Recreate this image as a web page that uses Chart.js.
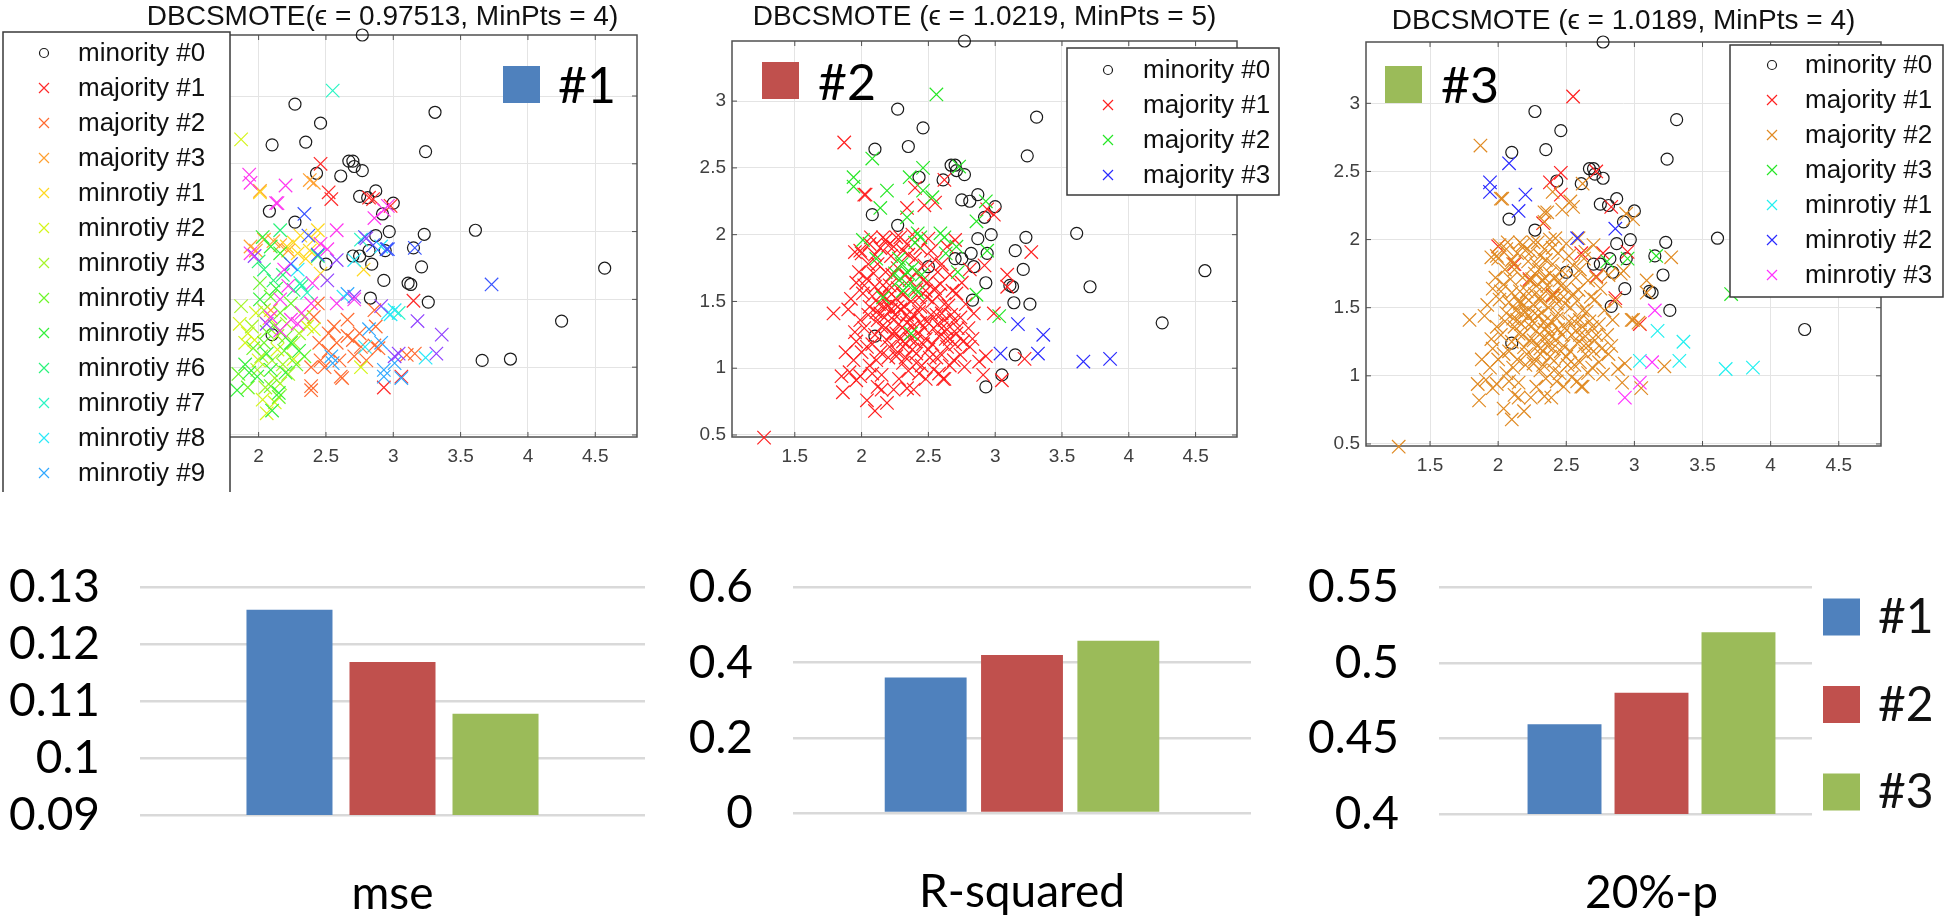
<!DOCTYPE html>
<html>
<head>
<meta charset="utf-8">
<title>DBCSMOTE clusters and scores</title>
<script src="https://cdn.jsdelivr.net/npm/chart.js@4.4.1/dist/chart.umd.min.js"></script>
<style>
  body { margin: 0; background: #fff; width: 1946px; height: 917px; position: relative; overflow: hidden; }
  canvas { position: absolute; }
  .sq { position: absolute; width: 37px; height: 37px; }
  .tag { position: absolute; font-family: Lato, 'Open Sans', sans-serif; font-size: 50px; line-height: 50px; color: #000; }
</style>
</head>
<body>
<canvas id="sc1" width="650" height="492" style="left:0;top:0"></canvas>
<canvas id="sc2" width="646" height="492" style="left:650px;top:0"></canvas>
<canvas id="sc3" width="650" height="492" style="left:1296px;top:0"></canvas>
<canvas id="bar1" width="650" height="397" style="left:0;top:520px"></canvas>
<canvas id="bar2" width="646" height="397" style="left:650px;top:520px"></canvas>
<canvas id="bar3" width="650" height="397" style="left:1296px;top:520px"></canvas>

<div class="sq" style="left:503px;top:66px;background:#4F81BD"></div><div class="tag" style="left:558px;top:59px">#1</div>
<div class="sq" style="left:762px;top:62px;background:#C0504D"></div><div class="tag" style="left:818px;top:56px">#2</div>
<div class="sq" style="left:1385px;top:66px;background:#9BBB59"></div><div class="tag" style="left:1441px;top:59px">#3</div>

<script>
// ---- scatter data (x, y) ----
var circlesAll = [[2.77,3.45],[2.27,2.94],[2.46,2.80],[3.31,2.88],[2.10,2.64],[2.35,2.66],[3.24,2.59],[2.67,2.52],[2.70,2.52],[2.71,2.48],
  [2.77,2.45],[2.43,2.43],[2.61,2.41],[2.87,2.30],[2.75,2.26],[2.81,2.25],[3.00,2.21],[2.08,2.15],[2.92,2.13],[2.27,2.07],
  [2.97,2.00],[3.61,2.01],[3.23,1.98],[2.87,1.97],[3.15,1.88],[2.94,1.86],[2.82,1.86],[2.70,1.82],[2.75,1.82],[2.84,1.76],
  [2.50,1.76],[3.21,1.74],[4.57,1.73],[2.93,1.64],[3.11,1.62],[3.13,1.61],[2.83,1.51],[3.26,1.48],[4.25,1.34],[2.10,1.24]];
var circlesP1 = [[3.66,1.05],[3.87,1.06]];
var circlesP2 = [[3.71,1.61],[3.15,1.10],[3.05,0.95],[2.93,0.86],[3.14,1.49]];

var coreCluster = [[2.03,2.30],[1.95,1.87],[1.99,1.88],[2.06,1.93],[2.10,1.85],[2.18,1.96],[2.24,1.91],[2.29,1.98],[2.34,1.93],[2.38,2.00],
  [2.44,1.90],[2.50,1.97],[2.55,1.81],[2.64,1.91],[2.04,1.67],[2.10,1.61],[2.01,1.56],[2.16,1.62],[2.23,1.70],[2.06,1.46],
  [2.14,1.41],[2.20,1.47],[2.24,1.36],[2.29,1.44],[2.34,1.34],[2.39,1.40],[2.44,1.46],[2.49,1.35],[2.54,1.30],[2.60,1.41],
  [2.65,1.47],[2.69,1.36],[2.64,1.29],[2.71,1.56],[1.79,1.41],[1.90,1.44],[1.95,1.27],[1.96,1.20],[2.04,1.16],[2.10,1.25],
  [2.15,1.31],[2.19,1.21],[2.26,1.26],[2.31,1.16],[2.36,1.22],[2.41,1.11],[2.46,1.18],[2.51,1.08],[2.58,1.24],[2.64,1.16],
  [2.69,1.06],[2.31,1.04],[2.35,0.98],[2.41,1.04],[1.85,0.94],[1.91,0.97],[1.99,0.94],[2.08,0.96],[2.15,0.95],[1.86,0.82],
  [1.96,0.91],[2.04,0.76],[2.10,0.68],[2.15,0.84],[2.34,0.85],[2.39,0.84],[2.61,0.92],[2.21,1.16],[2.49,1.53],[2.41,1.59],
  [2.59,1.63],[1.96,1.64],[1.99,1.36],[2.11,1.06],[2.26,1.09],[2.54,0.99],[1.87,2.69],[2.02,2.30],[2.40,2.35],[2.34,2.20],
  [2.47,2.22],[2.55,2.24],[2.62,2.41],[2.99,2.15],[2.94,2.19],[3.27,1.87],[3.09,1.70],[3.09,1.61],[2.92,1.77],[2.81,1.74],
  [2.70,1.96],[2.99,1.41],[2.84,1.41],[2.81,1.16],[2.93,1.09],[2.91,0.95],[3.05,0.91],[3.22,1.07],[2.62,0.92],[2.71,1.26],
  [1.27,0.48],[2.60,1.10],[2.77,1.01],[2.12,1.78],[2.18,1.72],[2.22,1.84],[2.27,1.75],[2.33,1.70],[2.40,1.82],[2.47,1.77],
  [2.52,1.88],[2.57,1.72],[2.15,1.55],[2.20,1.58],[2.26,1.52],[2.31,1.55],[2.37,1.50],[2.43,1.53],[2.48,1.58],[2.53,1.50],
  [2.58,1.55],[2.62,1.48],[2.12,1.36],[2.18,1.30],[2.23,1.26],[2.28,1.33],[2.33,1.28],[2.38,1.31],[2.42,1.26],[2.47,1.30],
  [2.52,1.40],[2.57,1.33],[2.62,1.36],[2.08,1.18],[2.14,1.12],[2.20,1.08],[2.27,1.12],[2.33,1.08],[2.38,1.14],[2.45,1.02],
  [2.50,1.14],[2.56,1.08],[2.66,1.22],[2.72,1.30],[2.76,1.20],[2.02,1.30],[2.05,1.40],[2.00,1.86],[2.07,1.98],[2.14,1.90],
  [2.35,1.85],[2.46,1.66],[2.22,1.44],[2.05,1.78],[2.09,1.71],[2.13,1.48],[2.17,1.38],[2.21,1.62],[2.25,1.40],[2.29,1.22],
  [2.32,1.46],[2.36,1.36],[2.40,1.20],[2.44,1.34],[2.48,1.22],[2.53,1.18],[2.56,1.40],[2.60,1.30],[2.63,1.22],[2.67,1.40],
  [2.70,1.18],[2.74,1.38],[2.78,1.48],[2.80,1.30],[2.83,1.22],[2.88,1.05],[2.74,1.10],[2.66,1.02],[2.58,0.96],[2.48,0.92],
  [2.43,0.96],[2.28,0.92],[2.24,0.84],[2.19,0.74],[2.12,0.86],[2.06,1.02],[2.00,1.12],[1.94,1.06],[1.88,1.12],[1.92,1.52],
  [1.98,1.72],[2.02,1.62],[2.08,1.54],[2.19,1.52],[2.27,1.60],[2.36,1.66],[2.41,1.72],[2.49,1.64],[2.55,1.60],[2.60,1.78],
  [2.66,1.70],[2.68,1.58],[2.75,1.64],[2.16,1.98],[2.26,1.98],[2.31,1.88],[2.20,1.92],[2.43,1.42],[2.34,1.40],[2.27,1.46],
  [2.17,1.46],[2.11,1.42],[2.31,1.20]];

// plot 2 (#2)
var p2Maj2 = [[2.56,3.05],[1.94,2.43],[1.94,2.36],[2.08,2.57],[2.19,2.33],[2.14,2.20],[2.34,2.13],[2.46,2.50],[2.36,2.43],[2.46,2.33],
  [2.53,2.28],[2.73,2.51],[2.86,2.10],[2.93,2.25],[2.01,1.96],[2.42,2.01],[2.59,2.01],[2.71,1.91],[2.63,1.86],[2.11,1.82],
  [2.28,1.82],[2.25,1.71],[2.34,1.72],[2.40,1.94],[2.72,1.72],[2.94,1.88],[2.86,1.55],[3.03,1.39],[2.16,1.53],[2.31,1.58],
  [2.40,1.60],[2.37,1.26],[2.30,1.78],[2.38,1.75],[2.45,1.70],[2.35,1.62],[2.28,1.66],[2.42,1.57],[2.44,1.98],[2.62,1.98]];
var p2Maj3 = [[3.17,1.33],[3.36,1.25],[3.04,1.11],[3.32,1.11],[3.66,1.05],[3.86,1.07]];

// plot 3 (#3)
var p3Maj1 = [[2.55,3.05],[2.00,1.95],[2.38,2.42],[2.46,2.49],[2.72,2.50],[2.46,2.33],[2.33,2.12],[2.77,1.90],[2.95,1.91],[2.72,1.73],
  [2.86,1.57],[2.40,1.59],[3.04,1.38],[2.23,1.71],[2.12,1.82],[2.83,2.24],[2.61,1.90]];
var p3Maj2Extra = [[2.01,1.96],[2.42,2.01],[2.59,2.01],[2.63,1.86],[2.11,1.82],[2.28,1.82],[2.25,1.71],[2.34,1.72],[2.40,1.94],[2.72,1.72],
  [2.86,1.55],[3.03,1.39],[2.16,1.53],[2.31,1.58],[2.40,1.60],[2.37,1.26],[2.30,1.78],[2.38,1.75],[2.45,1.70],[2.35,1.62],
  [2.28,1.66],[2.42,1.57],[2.34,2.13],[2.53,2.28],[2.36,2.20],[2.90,1.75],[2.98,1.41]];
var p3Maj3 = [[2.80,1.84],[2.95,1.86],[3.16,1.88],[3.71,1.60]];
var p3Min1 = [[3.17,1.33],[3.36,1.25],[3.04,1.11],[3.33,1.11],[3.67,1.05],[3.87,1.06]];
var p3Min2 = [[1.94,2.42],[1.94,2.35],[2.08,2.56],[2.20,2.33],[2.15,2.21],[2.58,2.01],[2.86,2.08]];
var p3Min3 = [[3.15,1.48],[3.13,1.10],[3.04,0.95],[2.93,0.84]];

// plot 1 (#1)
var p1Maj1 = [[2.46,2.50],[2.52,2.29],[2.54,2.24],[2.82,2.25],[2.85,2.24],[2.98,2.19],[3.15,1.49],[3.06,0.93],[2.93,0.85]];
var p1Maj2 = [[2.86,1.42],[2.87,1.30],[2.44,1.47],[2.66,1.23],[2.76,1.15],[2.61,0.93],[2.39,0.83],[2.49,1.00],[2.56,1.30],[2.58,1.18],
  [2.71,1.08],[2.86,1.16],[2.41,1.37],[2.39,1.00],[2.89,1.14],[3.10,1.09],[3.16,1.10],[2.46,1.05],[2.62,0.92],[2.39,0.86],
  [2.75,1.25],[2.66,1.35],[2.52,1.12],[2.52,1.25],[2.60,1.05],[2.70,1.20],[2.45,1.18],[2.80,1.05]];
var p1Maj3 = [[1.94,1.89],[2.04,1.94],[2.11,1.93],[2.41,2.36],[2.09,1.42],[2.38,2.38],[2.01,2.30],[2.16,1.90],[2.22,1.86],[1.98,1.86]];
var p1Min1 = [[2.01,2.29],[2.21,1.89],[2.29,1.84],[2.41,1.94],[2.46,1.69],[2.31,1.97],[2.78,1.72],[2.35,1.80],[2.26,1.92],[2.44,2.01],[2.38,1.86]];
var p1Min2 = [[1.87,2.68],[1.92,1.25],[1.97,1.20],[2.14,1.13],[2.36,1.30],[2.76,1.00],[2.03,0.76],[2.06,0.66],[2.41,1.28],[1.86,1.32],
  [2.00,1.05],[1.90,1.18],[2.08,1.36],[2.26,1.06],[1.98,1.40],[2.12,0.74]];
var p1Min3 = [[1.87,1.45],[2.14,1.23],[2.21,1.32],[2.04,1.42],[2.26,1.18],[2.34,1.37],[2.16,0.88],[1.99,0.98],[2.30,1.25],[2.10,1.05],
  [2.22,0.95],[2.05,0.85],[1.95,1.30],[2.02,1.08],[2.18,1.02],[2.12,0.92]];
var p1Min4 = [[2.01,1.62],[2.09,1.52],[2.16,1.40],[2.04,1.18],[2.24,1.47],[2.34,1.08],[1.85,0.95],[1.92,0.85],[2.12,1.30],[2.20,1.22],
  [2.28,1.02],[2.15,0.78],[1.96,1.14],[2.06,1.26],[2.19,1.12],[2.09,0.86]];
var p1Min5 = [[2.03,1.96],[2.09,1.89],[2.16,1.84],[2.24,1.18],[2.09,0.98],[1.84,0.83],[1.99,0.93],[2.10,0.68],[2.15,0.81],[1.93,0.96],
  [2.06,1.10],[2.30,1.12],[2.01,1.50],[2.13,1.58],[1.90,1.02],[2.20,0.96]];
var p1Min6 = [[2.16,2.01],[2.04,1.72],[2.11,1.64],[2.26,1.57],[2.44,1.82],[2.00,1.78],[2.18,1.68],[2.32,1.60]];
var p1Min7 = [[2.55,3.04],[2.31,1.62],[2.76,1.94],[3.04,1.40],[2.36,1.55]];
var p1Min8 = [[2.71,1.79],[2.91,1.89],[2.63,1.52],[2.96,1.40],[2.29,1.72],[3.01,1.42],[2.98,1.39],[3.24,1.07],[2.79,1.15]];
var p1Min9 = [[2.82,1.28],[2.91,1.18],[2.93,0.98],[3.01,1.03],[2.54,1.08],[2.66,1.54],[2.93,0.93],[3.06,0.92],[2.55,1.03]];
var p1Min10 = [[2.34,2.13],[2.37,1.97],[2.96,1.87],[2.85,1.90],[2.24,1.76],[2.44,1.83],[3.16,1.88],[2.95,1.87],[3.73,1.61],[2.79,1.96]];
var p1Min11 = [[1.97,1.82],[2.80,1.95],[2.58,1.79],[2.51,1.64],[2.06,1.32],[2.71,1.52],[2.91,1.45],[3.01,1.08],[3.18,1.34],[3.36,1.24],[3.04,1.10],[3.32,1.10]];
var p1Min12 = [[1.93,2.42],[1.94,2.36],[2.20,2.34],[2.14,2.21],[2.86,2.10],[2.58,2.01],[1.94,1.84],[2.19,1.72],[2.46,1.91],[2.16,1.50],
  [2.71,1.50],[2.09,1.37],[2.24,1.35],[2.16,1.27],[2.51,1.87],[2.58,1.47],[2.39,1.47],[2.29,1.32],[2.93,2.16],[2.96,2.19],
  [2.13,2.21],[2.32,1.40],[2.22,1.60],[2.40,1.62]];

var titles = ['DBCSMOTE(\u03f5 = 0.97513, MinPts = 4)', 'DBCSMOTE (\u03f5 = 1.0219, MinPts = 5)', 'DBCSMOTE (\u03f5 = 1.0189, MinPts = 4)'];

// ---- bar data ----
var barNames = ['#1', '#2', '#3'];
var barColors = ['#4F81BD', '#C0504D', '#9BBB59'];
var mseVals = [0.1261, 0.1169, 0.1078];
var r2Vals = [0.361, 0.4205, 0.4585];
var p20Vals = [0.4594, 0.4804, 0.5204];

var sansA = "'Liberation Sans', Arial, sans-serif";
var sansB = "Lato, 'Open Sans', sans-serif";

// box around the axes with small inward ticks, like MATLAB
var frame = {
  id: 'frame',
  beforeDatasetsDraw: function(chart) {
    var ctx = chart.ctx, a = chart.chartArea, sx = chart.scales.x, sy = chart.scales.y;
    ctx.save();
    ctx.strokeStyle = '#505050';
    ctx.lineWidth = 1.5;
    ctx.strokeRect(a.left, a.top, a.right - a.left, a.bottom - a.top);
    ctx.lineWidth = 1;
    ctx.beginPath();
    sx.ticks.forEach(function(t) {
      var px = sx.getPixelForValue(t.value);
      ctx.moveTo(px, a.bottom); ctx.lineTo(px, a.bottom - 5);
      ctx.moveTo(px, a.top); ctx.lineTo(px, a.top + 5);
    });
    sy.ticks.forEach(function(t) {
      var py = sy.getPixelForValue(t.value);
      ctx.moveTo(a.left, py); ctx.lineTo(a.left + 5, py);
      ctx.moveTo(a.right, py); ctx.lineTo(a.right - 5, py);
    });
    ctx.stroke();
    ctx.restore();
  }
};

// legend drawn as a boxed list at a fixed spot (covers what is under it)
var boxLegend = {
  id: 'boxLegend',
  afterDraw: function(chart, args, o) {
    if (!o || !o.show) return;
    var ctx = chart.ctx;
    ctx.save();
    ctx.fillStyle = '#fff';
    ctx.fillRect(o.x, o.y, o.w, o.h);
    if (o.border) {
      ctx.strokeStyle = '#3a3a3a';
      ctx.lineWidth = 1.5;
      ctx.strokeRect(o.x, o.y, o.w, o.h);
    }
    ctx.font = o.font;
    ctx.textBaseline = 'middle';
    chart.data.datasets.forEach(function(ds, i) {
      var cy = o.y + o.first + i * o.rowH;
      var cx = o.x + o.markX;
      if (o.marker === 'rect') {
        ctx.fillStyle = ds.backgroundColor;
        ctx.fillRect(cx - o.size / 2, cy - o.size / 2, o.size, o.size);
      } else {
        ctx.strokeStyle = ds.pointBorderColor;
        ctx.lineWidth = 1.2;
        ctx.beginPath();
        if (ds.pointStyle === 'circle') {
          ctx.arc(cx, cy, 4.5, 0, Math.PI * 2);
        } else {
          ctx.moveTo(cx - 5, cy - 5); ctx.lineTo(cx + 5, cy + 5);
          ctx.moveTo(cx - 5, cy + 5); ctx.lineTo(cx + 5, cy - 5);
        }
        ctx.stroke();
      }
      ctx.fillStyle = '#111';
      ctx.fillText(ds.label, o.x + o.textX, cy + 1);
    });
    ctx.restore();
  }
};

function pts(arr) {
  return arr.map(function(p) { return { x: p[0], y: p[1] }; });
}

function scatterChart(id, c) {
  var datasets = c.series.map(function(s, i) {
    var circ = s[2] === 'o';
    return {
      label: s[0],
      data: pts(s[1]),
      pointStyle: circ ? 'circle' : 'crossRot',
      pointRadius: circ ? 6 : 9.5,
      pointBorderWidth: 1.2,
      pointBorderColor: s[3],
      borderColor: s[3],
      pointBackgroundColor: 'rgba(0,0,0,0)',
      backgroundColor: 'rgba(0,0,0,0)',
      clip: false,
      order: -i
    };
  });
  return new Chart(document.getElementById(id), {
    type: 'scatter',
    data: { datasets: datasets },
    plugins: [frame, boxLegend],
    options: {
      responsive: false,
      animation: false,
      events: [],
      layout: { padding: { left: 0, right: c.padR, top: 0, bottom: 0 } },
      plugins: {
        legend: { display: false },
        tooltip: { enabled: false },
        title: {
          display: true, text: c.title, fullSize: false, color: '#111',
          font: { family: sansA, size: 28, weight: 'normal' },
          padding: { top: c.tTop, bottom: c.tBot }
        },
        boxLegend: c.legend
      },
      scales: {
        x: {
          type: 'linear', min: 1.03, max: 4.81,
          afterFit: function(s) { s.height = c.xH; },
          grid: { color: '#e4e4e4', lineWidth: 1, drawTicks: false },
          border: { display: false },
          ticks: {
            stepSize: 0.5, includeBounds: false, autoSkip: false, maxRotation: 0, padding: 8,
            color: '#404040', font: { family: sansA, size: 19 },
            callback: function(v) { return String(Math.round(v * 100) / 100); }
          }
        },
        y: {
          min: 0.485, max: 3.45,
          afterFit: function(s) { s.width = c.yW; },
          grid: { color: '#e4e4e4', lineWidth: 1, drawTicks: false },
          border: { display: false },
          ticks: {
            stepSize: 0.5, includeBounds: false, autoSkip: false, padding: 6,
            color: '#404040', font: { family: sansA, size: 19 },
            callback: function(v) { return String(Math.round(v * 100) / 100); }
          }
        }
      }
    }
  });
}

var legFont = '26px ' + sansA;

scatterChart('sc1', {
  title: titles[0], tTop: 0, tBot: 1.4, yW: 128, xH: 55, padR: 13,
  legend: { show: true, border: true, x: 3, y: 32, w: 227, h: 480, first: 21, rowH: 35, markX: 41, textX: 75, font: legFont },
  series: [
    ['minority #0', circlesAll.concat(circlesP1), 'o', '#1a1a1a'],
    ['majority #1', p1Maj1, 'x', '#ff2a2a'],
    ['majority #2', p1Maj2, 'x', '#ff6a30'],
    ['majority #3', p1Maj3, 'x', '#ffa030'],
    ['minrotiy #1', p1Min1, 'x', '#ffd820'],
    ['minrotiy #2', p1Min2, 'x', '#d4f51a'],
    ['minrotiy #3', p1Min3, 'x', '#a6f52a'],
    ['minrotiy #4', p1Min4, 'x', '#6cf52a'],
    ['minrotiy #5', p1Min5, 'x', '#33f03a'],
    ['minrotiy #6', p1Min6, 'x', '#2af27a'],
    ['minrotiy #7', p1Min7, 'x', '#2af5c4'],
    ['minrotiy #8', p1Min8, 'x', '#2ae8f8'],
    ['minrotiy #9', p1Min9, 'x', '#30a8ff'],
    ['minrotiy #10', p1Min10, 'x', '#3a56ff'],
    ['minrotiy #11', p1Min11, 'x', '#9040ff'],
    ['minrotiy #12', p1Min12, 'x', '#ff36f0']
  ]
});

scatterChart('sc2', {
  title: titles[1], tTop: 0.2, tBot: 7.2, yW: 82, xH: 55, padR: 59,
  legend: { show: true, border: true, x: 417, y: 48, w: 212, h: 147, first: 22, rowH: 35, markX: 41, textX: 76, font: legFont },
  series: [
    ['minority #0', circlesAll.concat(circlesP2), 'o', '#1a1a1a'],
    ['majority #1', coreCluster, 'x', '#ff1f1f'],
    ['majority #2', p2Maj2, 'x', '#26e626'],
    ['majority #3', p2Maj3, 'x', '#2a2aff']
  ]
});

scatterChart('sc3', {
  title: titles[2], tTop: 4.2, tBot: 4.2, yW: 70, xH: 46, padR: 65,
  legend: { show: true, border: true, x: 434, y: 45, w: 213, h: 252, first: 20, rowH: 35, markX: 42, textX: 75, font: legFont },
  series: [
    ['minority #0', circlesAll, 'o', '#1a1a1a'],
    ['majority #1', p3Maj1, 'x', '#ff2020'],
    ['majority #2', coreCluster.concat(p3Maj2Extra), 'x', '#e08a22'],
    ['majority #3', p3Maj3, 'x', '#26e626'],
    ['minrotiy #1', p3Min1, 'x', '#22f0f0'],
    ['minrotiy #2', p3Min2, 'x', '#2a2aff'],
    ['minrotiy #3', p3Min3, 'x', '#ff30ff']
  ]
});

function barChart(id, c) {
  return new Chart(document.getElementById(id), {
    type: 'bar',
    data: {
      labels: [c.cat],
      datasets: barNames.map(function(n, i) {
        return {
          label: n, data: [c.vals[i]], backgroundColor: barColors[i], borderWidth: 0,
          barPercentage: c.bp, categoryPercentage: c.cp
        };
      })
    },
    plugins: [boxLegend],
    options: {
      responsive: false,
      animation: false,
      events: [],
      layout: { padding: { left: 0, right: c.padR, top: c.top, bottom: 0 } },
      plugins: {
        legend: { display: false },
        tooltip: { enabled: false },
        boxLegend: c.legend || { show: false }
      },
      scales: {
        x: {
          afterFit: function(s) { s.height = c.xH; },
          grid: { display: false },
          border: { display: false },
          ticks: { padding: 44, color: '#000', font: { family: sansB, size: 46 } }
        },
        y: {
          min: c.min, max: c.max,
          afterFit: function(s) { s.width = c.yW; },
          grid: { color: '#d9d9d9', lineWidth: 2.5, drawTicks: false },
          border: { display: false },
          ticks: {
            stepSize: c.step, autoSkip: false, padding: 40, color: '#000', font: { family: sansB, size: 46 },
            callback: function(v) { return String(Math.round(v * 1000) / 1000); }
          }
        }
      }
    }
  });
}

barChart('bar1', { cat: 'mse', vals: mseVals, min: 0.09, max: 0.13, step: 0.01, yW: 140, padR: 5, top: 52, xH: 102, bp: 0.835, cp: 0.612 });
barChart('bar2', { cat: 'R-squared', vals: r2Vals, min: 0, max: 0.6, step: 0.2, yW: 143, padR: 45, top: 50, xH: 104, bp: 0.85, cp: 0.631 });
barChart('bar3', { cat: '20%-p', vals: p20Vals, min: 0.4, max: 0.55, step: 0.05, yW: 143, padR: 82, top: 49, xH: 103, bp: 0.85, cp: 0.614,
  legend: { show: true, border: false, marker: 'rect', size: 37, x: 516, y: 40, w: 134, h: 270, first: 57, rowH: 87.5, markX: 29.5, textX: 66, font: '48px ' + sansB } });
</script>
</body>
</html>
